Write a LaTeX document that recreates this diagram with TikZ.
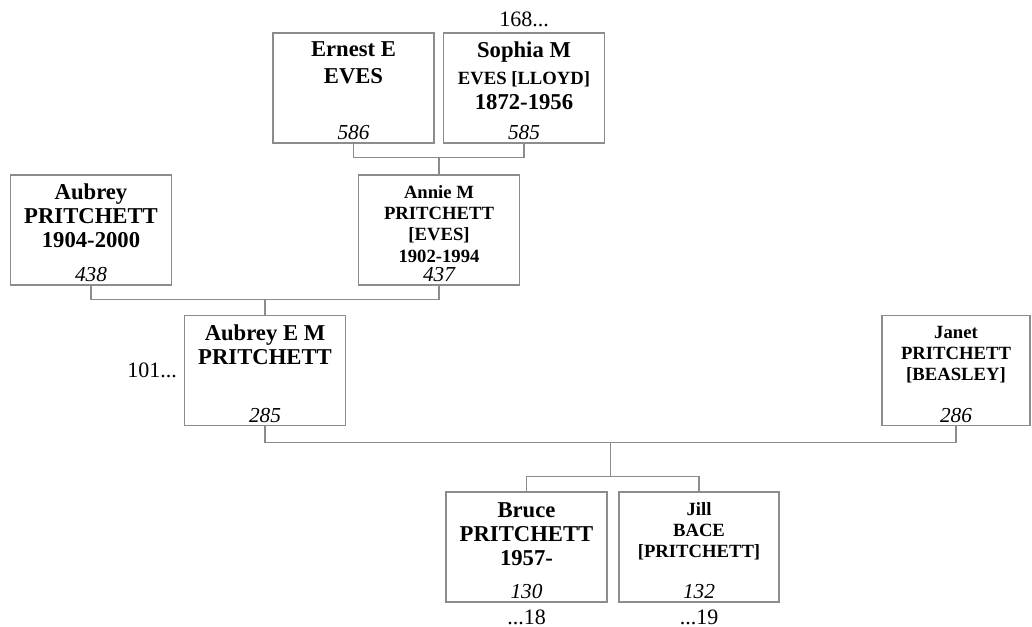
\documentclass[tikz,border=0pt]{standalone}
\usepackage{fontspec}
\setmainfont{Liberation Serif}
\usetikzlibrary{positioning, calc}
\definecolor{cLinea}{HTML}{8C8C8C}
\newcommand\nbig{\fontsize{17}{18}\selectfont\bfseries}
\newcommand\nsml{\fontsize{14}{16}\selectfont\bfseries}

\begin{document}
\begin{tikzpicture}[
    x=0.75pt, y=-0.75pt,
    pers/.style={draw=cLinea, line width=0.9pt, minimum width=120.75pt,
                 minimum height=82.5pt, inner sep=0pt},
    nomG/.style={align=center, inner sep=0pt, font=\nbig},
    nomP/.style={align=center, inner sep=0pt, font=\nsml},
    num/.style={font=\fontsize{16}{18}\selectfont\itshape, inner sep=0pt,
                anchor=base},
    ref/.style={font=\fontsize{16.5}{18}\selectfont, inner sep=0pt},
    lin/.style={draw=cLinea, line width=0.9pt},
]
\useasboundingbox (0,0) rectangle (1032,627);

% ===================== Bisabuelos =====================
\node[pers] (ernest) at (353.5,88) {};
\node[nomG, below=7pt of ernest.north] (ernestN) {Ernest E\\[2pt]EVES};
\node[num] (ernestR) at ([yshift=3pt]ernest.south) {586};

\node[pers] (sophia) at (524,88) {};
\node[nomG, below=7pt of sophia.north] (sophiaN)
      {Sophia M\\[2pt]\nsml EVES [LLOYD]\\[1pt]1872-1956};
\node[num] (sophiaR) at ([yshift=3pt]sophia.south) {585};
\node[ref, above=4pt of sophia] (sophiaP) {168...};

% ===================== Abuelos =====================
\node[pers] (aubrey) at (91,230) {};
\node[nomG, below=7pt of aubrey.north] (aubreyN)
      {Aubrey\\PRITCHETT\\1904-2000};
\node[num] (aubreyR) at ([yshift=3pt]aubrey.south) {438};

\node[pers] (annie) at (439,230) {};
\node[nomP, below=8pt of annie.north] (annieN)
      {Annie M\\PRITCHETT\\{[EVES]}\\1902-1994};
\node[num] (annieR) at ([yshift=3pt]annie.south) {437};

% ===================== Padres =====================
\node[pers] (aubreyem) at (265,370.5) {};
\node[nomG, below=7pt of aubreyem.north] (aubreyemN)
      {Aubrey E M\\PRITCHETT};
\node[num] (aubreyemR) at ([yshift=3pt]aubreyem.south) {285};
\node[ref, left=5pt of aubreyem] (aubreyemP) {101...};

\node[pers, minimum width=111pt] (janet) at (956,370.5) {};
\node[nomP, below=8pt of janet.north] (janetN)
      {Janet\\PRITCHETT\\{[BEASLEY]}};
\node[num] (janetR) at ([yshift=3pt]janet.south) {286};

% ===================== Hijos =====================
\node[pers] (bruce) at (526.5,547) {};
\node[nomG, below=8pt of bruce.north] (bruceN)
      {Bruce\\PRITCHETT\\1957-};
\node[num] (bruceR) at ([yshift=3pt]bruce.south) {130};
\node[ref, below=5pt of bruce] (bruceP) {...18};

\node[pers, minimum width=120pt] (jill) at (699,547) {};
\node[nomP, below=8pt of jill.north] (jillN)
      {Jill\\BACE\\{[PRITCHETT]}};
\node[num] (jillR) at ([yshift=3pt]jill.south) {132};
\node[ref, below=5pt of jill] (jillP) {...19};

% ===================== Lineas de familia =====================
\draw[lin] (ernest.south) -- ++(0,14) coordinate (u1) -| (sophia.south);
\draw[lin] (annie.north) -- (annie.north |- u1);

\draw[lin] (aubrey.south) -- ++(0,14) coordinate (u2) -| (annie.south);
\draw[lin] (aubreyem.north) -- (aubreyem.north |- u2);

\draw[lin] (aubreyem.south) -- ++(0,16) coordinate (u3) -| (janet.south);
\coordinate (u3m) at ($(u3)!.5!(u3 -| janet.south)$);
\draw[lin] (bruce.north) -- ++(0,-15) coordinate (h3) -| (jill.north);
\draw[lin] (u3m) -- (u3m |- h3);

\end{tikzpicture}
\end{document}
